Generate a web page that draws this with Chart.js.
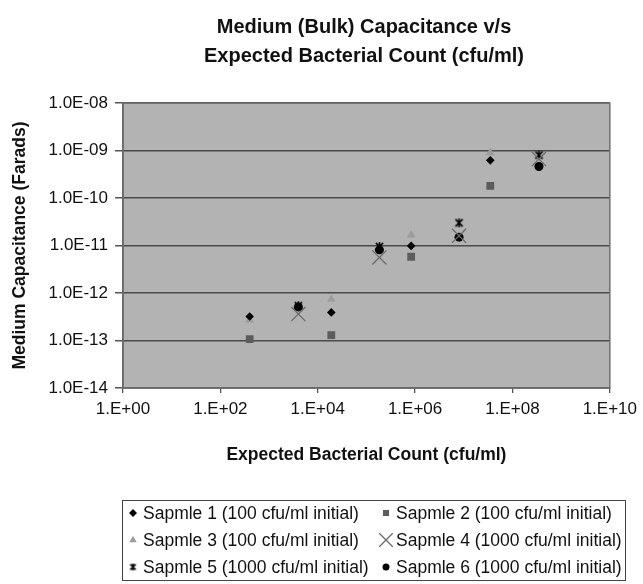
<!DOCTYPE html>
<html>
<head>
<meta charset="utf-8">
<title>Medium (Bulk) Capacitance v/s Expected Bacterial Count</title>
<script src="https://cdn.jsdelivr.net/npm/chart.js@4.4.0/dist/chart.umd.min.js"></script>
<style>
    html, body { margin: 0; padding: 0; background: #fff; }
    #wrap { width: 643px; height: 584px; }
</style>
</head>
<body>
<div id="wrap"><canvas id="capChart" width="643" height="584"></canvas></div>
<script>
// Scatter log-log: kapasitansi medium vs jumlah bakteri yang diharapkan.
// Nilai dibaca dari gambar asli (perkiraan).

const TITLE_LINES = ['Medium (Bulk) Capacitance v/s', 'Expected Bacterial Count (cfu/ml)'];
const X_TITLE = 'Expected Bacterial Count (cfu/ml)';
const Y_TITLE = 'Medium Capacitance (Farads)';

const xTicks = [1, 1e2, 1e4, 1e6, 1e8, 1e10];
const yTicks = [1e-14, 1e-13, 1e-12, 1e-11, 1e-10, 1e-9, 1e-8];

// jumlah bakteri (cfu/ml) per titik pengukuran
const countLow  = [4.0e2, 1.9e4, 8.3e5, 3.5e7];   // sampel 1-3 (100 cfu/ml awal)
const countHigh = [4.0e3, 1.85e5, 8.0e6, 3.5e8];  // sampel 4-6 (1000 cfu/ml awal)

// kapasitansi (Farad)
const sample1 = [3.2e-13, 3.9e-13, 9.8e-12, 6.2e-10];
const sample2 = [1.07e-13, 1.3e-13, 5.8e-12, 1.8e-10];
const sample3 = [2.7e-13, 7.4e-13, 1.67e-11, 9.0e-10];
const sample4 = [3.6e-13, 5.6e-12, 1.6e-11, 6.6e-10];
const sample5 = [5.4e-13, 9.5e-12, 3.0e-11, 8.0e-10];
const sample6 = [5.1e-13, 8.1e-12, 1.5e-11, 4.6e-10];

const sampleNames = [
    'Sapmle 1 (100 cfu/ml initial)',
    'Sapmle 2 (100 cfu/ml initial)',
    'Sapmle 3 (100 cfu/ml initial)',
    'Sapmle 4 (1000 cfu/ml initial)',
    'Sapmle 5 (1000 cfu/ml initial)',
    'Sapmle 6 (1000 cfu/ml initial)'
];

const FONT = '"Liberation Sans", Arial, Helvetica, sans-serif';
Chart.defaults.font.family = FONT;
Chart.defaults.color = '#111';

// marker asterisk ala Excel (X + garis vertikal)
function makeAsterisk(size, color) {
    const c = document.createElement('canvas');
    c.width = size; c.height = size;
    const g = c.getContext('2d');
    const m = size / 2, r = size / 2 - 1;
    g.strokeStyle = color;
    g.lineWidth = 1.6;
    g.beginPath();
    g.moveTo(m - r * 0.8, m - r * 0.8); g.lineTo(m + r * 0.8, m + r * 0.8);
    g.moveTo(m + r * 0.8, m - r * 0.8); g.lineTo(m - r * 0.8, m + r * 0.8);
    g.moveTo(m, m - r); g.lineTo(m, m + r);
    g.stroke();
    return c;
}

const star = makeAsterisk(11, '#000');
const starSmall = makeAsterisk(9, '#000');

const seriesStyle = [
    { pointStyle: 'rectRot',  radius: 4.3, legendRadius: 4,   fill: '#000',    stroke: '#000',    bw: 0 },
    { pointStyle: 'rect',     radius: 5.5, legendRadius: 4.3, fill: '#5c5c5c', stroke: '#5c5c5c', bw: 0 },
    { pointStyle: 'triangle', radius: 5,   legendRadius: 4.3, fill: '#9c9c9c', stroke: '#9c9c9c', bw: 0 },
    { pointStyle: 'crossRot', radius: 10,  legendRadius: 9.5, fill: '#6a6a6a', stroke: '#6a6a6a', bw: 1.3 },
    { pointStyle: star,       radius: 5,   legendRadius: 4,   fill: '#000',    stroke: '#000',    bw: 0, legendStyle: starSmall },
    { pointStyle: 'circle',   radius: 4.5, legendRadius: 3.5, fill: '#000',    stroke: '#000',    bw: 0 }
];

const sampleValues = [sample1, sample2, sample3, sample4, sample5, sample6];
const sampleCounts = [countLow, countLow, countLow, countHigh, countHigh, countHigh];

const datasets = sampleValues.map((vals, i) => {
    const st = seriesStyle[i];
    return {
        label: sampleNames[i],
        data: sampleCounts[i].map((x, j) => ({ x, y: vals[j] })),
        pointStyle: st.pointStyle,
        pointRadius: st.radius,
        backgroundColor: st.fill,
        borderColor: st.stroke,
        borderWidth: st.bw,
        showLine: false
    };
});

function pad2(n) { return String(n).padStart(2, '0'); }

// latar abu-abu area plot + bingkai
const plotBackground = {
    id: 'plotBackground',
    beforeDraw(chart) {
        const { ctx, chartArea: a } = chart;
        ctx.save();
        ctx.fillStyle = '#b3b3b3';
        ctx.fillRect(a.left, a.top, a.right - a.left, a.bottom - a.top);
        ctx.restore();
    },
    afterDatasetsDraw(chart) {
        const { ctx, chartArea: a } = chart;
        ctx.save();
        ctx.strokeStyle = '#6f6f6f';
        ctx.lineWidth = 1.5;
        ctx.strokeRect(a.left, a.top, a.right - a.left, a.bottom - a.top);
        ctx.restore();
    }
};

// judul dua baris, rata tengah di atas area plot
const chartTitle = {
    id: 'chartTitle',
    afterDraw(chart) {
        const { ctx } = chart;
        ctx.save();
        ctx.font = 'bold 20px ' + FONT;
        ctx.fillStyle = '#111';
        ctx.textAlign = 'center';
        ctx.textBaseline = 'middle';
        TITLE_LINES.forEach((t, i) => ctx.fillText(t, 364, 27 + i * 29));
        ctx.restore();
    }
};

// legenda kotak 2 kolom x 3 baris di bawah
const boxLegend = {
    id: 'boxLegend',
    afterDraw(chart) {
        const { ctx } = chart;
        ctx.save();
        ctx.strokeStyle = '#444';
        ctx.lineWidth = 1;
        ctx.strokeRect(122.5, 500.5, 503, 80);

        ctx.font = '17.5px ' + FONT;
        ctx.textBaseline = 'middle';
        ctx.textAlign = 'left';
        const colMarker = [133, 386];
        const colText = [143, 396];
        const rowY = [513, 540, 567];
        sampleNames.forEach((name, i) => {
            const st = seriesStyle[i];
            const col = i % 2, row = Math.floor(i / 2);
            ctx.fillStyle = st.fill;
            ctx.strokeStyle = st.stroke;
            ctx.lineWidth = st.bw;
            Chart.helpers.drawPoint(ctx, {
                pointStyle: st.legendStyle || st.pointStyle,
                radius: st.legendRadius,
                rotation: 0,
                borderWidth: st.bw
            }, colMarker[col], rowY[row]);
            ctx.fillStyle = '#111';
            ctx.fillText(name, colText[col], rowY[row] + 1);
        });
        ctx.restore();
    }
};

new Chart(document.getElementById('capChart'), {
    type: 'scatter',
    data: { datasets },
    options: {
        responsive: false,
        animation: false,
        events: [],
        devicePixelRatio: 1,
        layout: { padding: { top: 103, right: 32, bottom: 118.5, left: 0 } },
        plugins: {
            legend: { display: false },
            title: { display: false },
            tooltip: { enabled: false }
        },
        scales: {
            x: {
                type: 'logarithmic',
                min: 1, max: 1e10,
                afterBuildTicks: s => { s.ticks = xTicks.map(v => ({ value: v })); },
                afterFit: s => { s.height = 77.5; },
                ticks: {
                    callback: v => '1.E+' + pad2(Math.round(Math.log10(v))),
                    font: { size: 17 },
                    color: '#111',
                    padding: 6,
                    maxRotation: 0,
                    autoSkip: false
                },
                grid: { drawOnChartArea: false, tickLength: 5, color: '#555', lineWidth: 1.3 },
                border: { color: '#555', width: 1.5 },
                title: {
                    display: true,
                    text: X_TITLE,
                    font: { size: 17.5, weight: 'bold' },
                    color: '#111',
                    padding: { top: 0, bottom: 0 }
                }
            },
            y: {
                type: 'logarithmic',
                min: 1e-14, max: 1e-8,
                afterBuildTicks: s => { s.ticks = yTicks.map(v => ({ value: v })); },
                afterFit: s => { s.width = 123; },
                ticks: {
                    callback: v => '1.0E-' + pad2(-Math.round(Math.log10(v))),
                    font: { size: 17 },
                    color: '#111',
                    padding: 7,
                    autoSkip: false
                },
                grid: { color: '#4a4a4a', lineWidth: 1.5, tickLength: 8, tickColor: '#555' },
                border: { color: '#555', width: 1.5 },
                title: {
                    display: true,
                    text: Y_TITLE,
                    font: { size: 17.5, weight: 'bold' },
                    color: '#111',
                    padding: { top: 10, bottom: 0 }
                }
            }
        }
    },
    plugins: [plotBackground, chartTitle, boxLegend]
});
</script>
</body>
</html>
